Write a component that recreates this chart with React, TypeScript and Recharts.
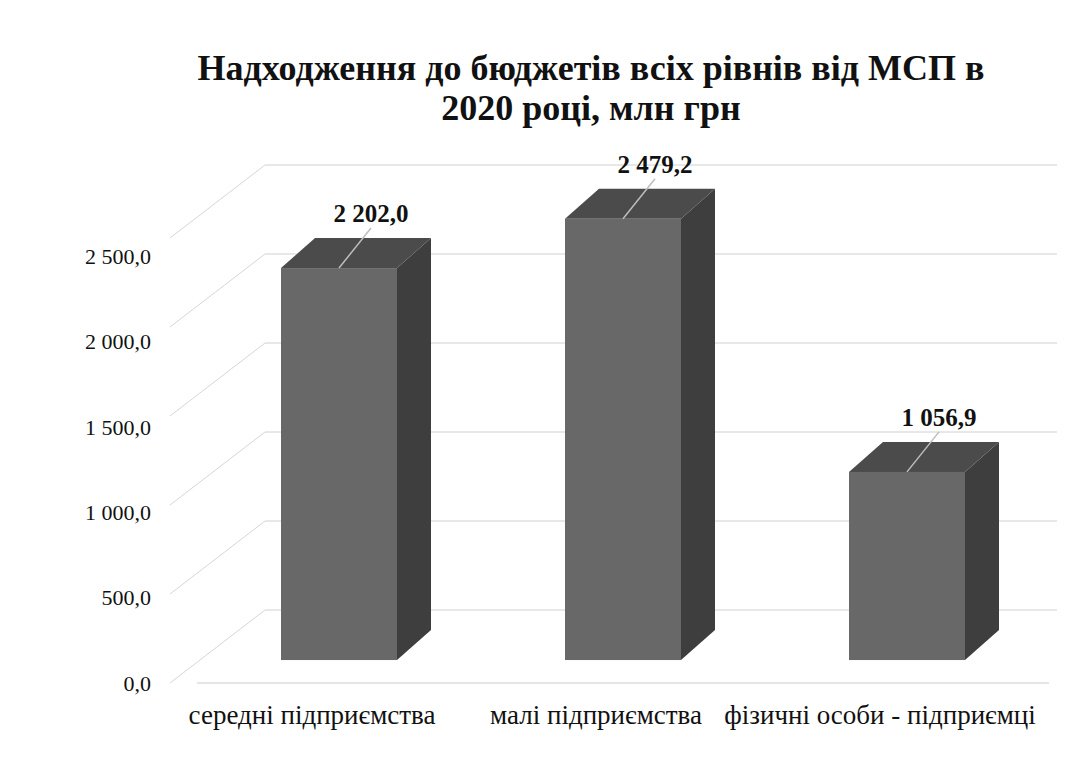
import React from 'react';
import { BarChart, Bar, XAxis, YAxis, CartesianGrid, LabelList } from 'recharts';

const categories = ['середні підприємства', 'малі підприємства', 'фізичні особи - підприємці'];
const values = [2202.0, 2479.2, 1056.9];
const axisTicks = [0, 500, 1000, 1500, 2000, 2500];
const titleLines = ['Надходження до бюджетів всіх рівнів від МСП в', '2020 році, млн грн'];

const data = categories.map((name, i) => ({ name, value: values[i] }));

const SERIF = '"Liberation Serif", "Times New Roman", serif';
const DEPTH_X = 34;
const DEPTH_Y = 30;

const fmt = (v: number) => {
  const [i, d] = v.toFixed(1).split('.');
  return i.replace(/\B(?=(\d{3})+(?!\d))/g, ' ') + ',' + d;
};

const Box3D = (props: any) => {
  const { x, y, width, height } = props;
  if (width == null || height == null) return null;
  const top = `${x},${y} ${x + DEPTH_X},${y - DEPTH_Y} ${x + width + DEPTH_X},${y - DEPTH_Y} ${x + width},${y}`;
  const side = `${x + width},${y} ${x + width + DEPTH_X},${y - DEPTH_Y} ${x + width + DEPTH_X},${y + height - DEPTH_Y} ${x + width},${y + height}`;
  return (
    <g>
      <polygon points={side} fill="#3e3e3e" />
      <polygon points={top} fill="#4b4b4b" />
      <rect x={x} y={y} width={width} height={height} fill="#686868" />
    </g>
  );
};

const ValueLabel = (props: any) => {
  const { x, y, width, value } = props;
  const cx = x + width / 2;
  return (
    <g>
      <line x1={cx} y1={y} x2={cx + 32} y2={y - 40} stroke="#bdbdbd" strokeWidth={1.5} />
      <text
        x={cx + 32}
        y={y - 46}
        textAnchor="middle"
        style={{ fontFamily: SERIF, fontWeight: 'bold', fontSize: 25, fill: '#111' }}
      >
        {fmt(value)}
      </text>
    </g>
  );
};

const YTick = (props: any) => {
  const { x, y, payload } = props;
  return (
    <text x={x + 22} y={y} dy="0.35em" textAnchor="end" style={{ fontFamily: SERIF, fontSize: 22, fill: '#111' }}>
      {fmt(payload.value)}
    </text>
  );
};

const XTick = (props: any) => {
  const { x, y, payload } = props;
  return (
    <text x={x - 27} y={y + 33} textAnchor="middle" style={{ fontFamily: SERIF, fontSize: 27, fill: '#111' }}>
      {payload.value}
    </text>
  );
};

const GridLine = (props: any) => {
  const { x1, x2, y1 } = props;
  if (props.y != null && props.height != null && Math.abs(y1 - (props.y + props.height)) < 2) return <g />;
  return (
    <g>
      <line x1={x1 + 68} y1={y1} x2={x2 + 8} y2={y1} stroke="#d0d0d0" strokeWidth={1} />
      <line x1={x1 + 68} y1={y1} x2={x1 - 27} y2={y1 + 73} stroke="#d6d6d6" strokeWidth={1} />
    </g>
  );
};

export default function App() {
  return (
    <div style={{ position: 'absolute', left: 0, top: 0, width: 1079, height: 769, background: '#fff' }}>
      <div
        style={{
          position: 'absolute',
          left: 91,
          top: 48,
          width: 1000,
          textAlign: 'center',
          fontFamily: SERIF,
          fontWeight: 'bold',
          fontSize: 36,
          lineHeight: '40px',
          color: '#111',
        }}
      >
        <div>{titleLines[0]}</div>
        <div>{titleLines[1]}</div>
      </div>
      <BarChart width={1079} height={769} data={data} margin={{ top: 165, right: 30, bottom: 36, left: 97 }}>
        <CartesianGrid yAxisId="wall" vertical={false} horizontal={GridLine as any} />
        <XAxis dataKey="name" height={50} tickLine={false} axisLine={{ stroke: '#cccccc' }} tick={XTick} interval={0} />
        <YAxis
          yAxisId="lbl"
          type="number"
          domain={[0, 3033]}
          ticks={axisTicks}
          allowDataOverflow
          width={100}
          axisLine={false}
          tickLine={false}
          tick={YTick}
        />
        <YAxis yAxisId="wall" type="number" domain={[-410, 2500]} ticks={axisTicks} allowDataOverflow hide />
        <YAxis yAxisId="bar" type="number" domain={[-129, 2781]} allowDataOverflow hide />
        <Bar yAxisId="bar" dataKey="value" barSize={116} shape={Box3D} isAnimationActive={false}>
          <LabelList dataKey="value" content={ValueLabel} />
        </Bar>
      </BarChart>
    </div>
  );
}
